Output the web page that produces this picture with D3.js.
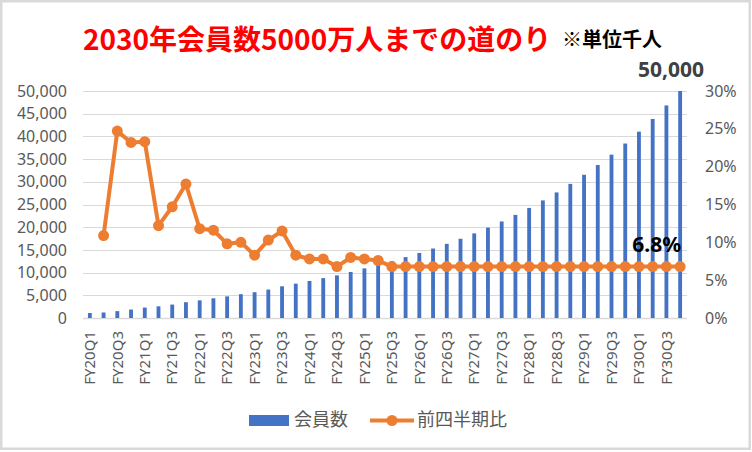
<!DOCTYPE html>
<html>
<head>
<meta charset="utf-8">
<script src="https://cdn.jsdelivr.net/npm/d3@7"></script>
<style>
  body { margin: 0; background: #fff; }
  svg { display: block; }
  text { font-family: "Noto Sans", "Noto Sans CJK JP", sans-serif; }
</style>
</head>
<body>
<script>
// quarters FY20Q1 .. FY30Q4
var quarters = [
  'FY20Q1','FY20Q2','FY20Q3','FY20Q4','FY21Q1','FY21Q2','FY21Q3','FY21Q4',
  'FY22Q1','FY22Q2','FY22Q3','FY22Q4','FY23Q1','FY23Q2','FY23Q3','FY23Q4',
  'FY24Q1','FY24Q2','FY24Q3','FY24Q4','FY25Q1','FY25Q2','FY25Q3','FY25Q4',
  'FY26Q1','FY26Q2','FY26Q3','FY26Q4','FY27Q1','FY27Q2','FY27Q3','FY27Q4',
  'FY28Q1','FY28Q2','FY28Q3','FY28Q4','FY29Q1','FY29Q2','FY29Q3','FY29Q4',
  'FY30Q1','FY30Q2','FY30Q3','FY30Q4'
];

// 会員数 (千人)
var members = [
  1094, 1213, 1512, 1863, 2297, 2577, 2956, 3479,
  3890, 4341, 4766, 5243, 5678, 6263, 6983, 7563,
  8153, 8789, 9387, 10138, 10929, 11760, 12559, 13414,
  14326, 15300, 16340, 17452, 18638, 19906, 21259, 22705,
  24249, 25898, 27659, 29539, 31548, 33693, 35985, 38431,
  41045, 43836, 46817, 50000
];

// 前四半期比 (%)
var growth = [
  null, 10.9, 24.7, 23.2, 23.3, 12.2, 14.7, 17.7,
  11.8, 11.6, 9.8, 10.0, 8.3, 10.3, 11.5, 8.3,
  7.8, 7.8, 6.8, 8.0, 7.8, 7.6, 6.8, 6.8,
  6.8, 6.8, 6.8, 6.8, 6.8, 6.8, 6.8, 6.8,
  6.8, 6.8, 6.8, 6.8, 6.8, 6.8, 6.8, 6.8,
  6.8, 6.8, 6.8, 6.8
];

var leftTicks = [0, 5000, 10000, 15000, 20000, 25000, 30000, 35000, 40000, 45000, 50000];
var rightTicks = [0, 5, 10, 15, 20, 25, 30];

var width = 752;
var height = 452;
var plot = { left: 83, right: 687, top: 91, bottom: 318 };

var svg = d3.select('body')
  .append('svg')
  .attr('width', width)
  .attr('height', height);

// outer frame
svg.append('rect')
  .attr('x', 1.25).attr('y', 1.25)
  .attr('width', width - 3.5).attr('height', height - 4.5)
  .attr('fill', 'white')
  .attr('stroke', '#d9d9d9')
  .attr('stroke-width', 2.5);

var x = d3.scaleBand()
  .domain(quarters)
  .range([plot.left, plot.right])
  .paddingInner(0.72)
  .paddingOuter(0.36);

var y = d3.scaleLinear().domain([0, 50000]).range([plot.bottom, plot.top]);
var y2 = d3.scaleLinear().domain([0, 30]).range([plot.bottom, plot.top]);

// gridlines
svg.append('g').attr('class', 'grid')
  .selectAll('line')
  .data(leftTicks)
  .enter().append('line')
  .attr('x1', plot.left).attr('x2', plot.right)
  .attr('y1', function(d) { return Math.round(y(d)) + 0.5; })
  .attr('y2', function(d) { return Math.round(y(d)) + 0.5; })
  .attr('stroke', '#d9d9d9')
  .attr('stroke-width', function(d) { return d === 0 ? 1.5 : 1; });

// left axis
var leftAxis = svg.append('g')
  .attr('transform', 'translate(' + 67 + ',0)')
  .call(d3.axisLeft(y).tickValues(leftTicks).tickFormat(d3.format(',')).tickSize(0).tickPadding(0));
leftAxis.select('.domain').remove();
leftAxis.selectAll('text')
  .attr('font-size', 16).attr('fill', '#595959')
  .style('font-family', '"Noto Sans", sans-serif');

// right axis
var rightAxis = svg.append('g')
  .attr('transform', 'translate(' + 705 + ',0)')
  .call(d3.axisRight(y2).tickValues(rightTicks).tickFormat(function(d) { return d + '%'; }).tickSize(0).tickPadding(0));
rightAxis.select('.domain').remove();
rightAxis.selectAll('text')
  .attr('font-size', 16).attr('fill', '#595959')
  .style('font-family', '"Noto Sans", sans-serif');

// bottom axis, every other quarter
var xTicks = quarters.filter(function(d, i) { return i % 2 === 0; });
var bottomAxis = svg.append('g')
  .attr('transform', 'translate(0,' + plot.bottom + ')')
  .call(d3.axisBottom(x).tickValues(xTicks).tickSize(0).tickPadding(0));
bottomAxis.select('.domain').remove();
bottomAxis.selectAll('text')
  .attr('font-size', 15).attr('fill', '#595959')
  .attr('transform', 'rotate(-90)')
  .attr('text-anchor', 'end')
  .attr('x', -13).attr('y', 0).attr('dy', '0.35em')
  .style('font-family', '"Noto Sans", sans-serif');

// bars
svg.append('g').attr('class', 'bars')
  .selectAll('rect')
  .data(members)
  .enter().append('rect')
  .attr('x', function(d, i) { return x(quarters[i]); })
  .attr('y', function(d) { return y(d); })
  .attr('width', x.bandwidth())
  .attr('height', function(d) { return plot.bottom - y(d); })
  .attr('fill', '#4472c4');

// growth line
var cx = function(i) { return x(quarters[i]) + x.bandwidth() / 2; };
var line = d3.line()
  .defined(function(d) { return d != null; })
  .x(function(d, i) { return cx(i); })
  .y(function(d) { return y2(d); });

svg.append('path')
  .datum(growth)
  .attr('d', line)
  .attr('fill', 'none')
  .attr('stroke', '#ed7d31')
  .attr('stroke-width', 4)
  .attr('stroke-linejoin', 'round');

svg.append('g').attr('class', 'dots')
  .selectAll('circle')
  .data(growth.map(function(d, i) { return { v: d, i: i }; }).filter(function(d) { return d.v != null; }))
  .enter().append('circle')
  .attr('cx', function(d) { return cx(d.i); })
  .attr('cy', function(d) { return y2(d.v); })
  .attr('r', 5.5)
  .attr('fill', '#ed7d31');

// data labels
var last = members.length - 1;
svg.append('text')
  .attr('x', cx(last) + 24).attr('y', y(members[last]) - 14)
  .attr('text-anchor', 'end')
  .attr('font-size', 21).attr('font-weight', 'bold').attr('fill', '#404040')
  .text(d3.format(',')(members[last]));

svg.append('text')
  .attr('x', cx(last) + 1).attr('y', y2(growth[last]) - 15)
  .attr('text-anchor', 'end')
  .attr('font-size', 21).attr('font-weight', 'bold').attr('fill', '#000')
  .text(growth[last] + '%');

// title
svg.append('text')
  .attr('x', 83).attr('y', 50)
  .attr('font-size', 28).attr('font-weight', 'bold').attr('fill', '#ff0000')
  .style('font-family', '"Noto Sans CJK JP", sans-serif')
  .text('2030年会員数5000万人までの道のり');

svg.append('text')
  .attr('x', 562).attr('y', 47)
  .attr('font-size', 20).attr('font-weight', 'bold').attr('fill', '#000')
  .style('font-family', '"Noto Sans CJK JP", sans-serif')
  .text('※単位千人');

// legend
var legend = svg.append('g').attr('class', 'legend');
legend.append('rect')
  .attr('x', 249).attr('y', 415).attr('width', 40).attr('height', 11)
  .attr('fill', '#4472c4');
legend.append('text')
  .attr('x', 294).attr('y', 420).attr('dy', '0.35em')
  .attr('font-size', 18).attr('fill', '#595959')
  .style('font-family', '"Noto Sans CJK JP", sans-serif')
  .text('会員数');
legend.append('line')
  .attr('x1', 370).attr('x2', 414).attr('y1', 420.5).attr('y2', 420.5)
  .attr('stroke', '#ed7d31').attr('stroke-width', 4);
legend.append('circle')
  .attr('cx', 392).attr('cy', 420.5).attr('r', 5.5)
  .attr('fill', '#ed7d31');
legend.append('text')
  .attr('x', 417).attr('y', 420).attr('dy', '0.35em')
  .attr('font-size', 18).attr('fill', '#595959')
  .style('font-family', '"Noto Sans CJK JP", sans-serif')
  .text('前四半期比');
</script>
</body>
</html>
